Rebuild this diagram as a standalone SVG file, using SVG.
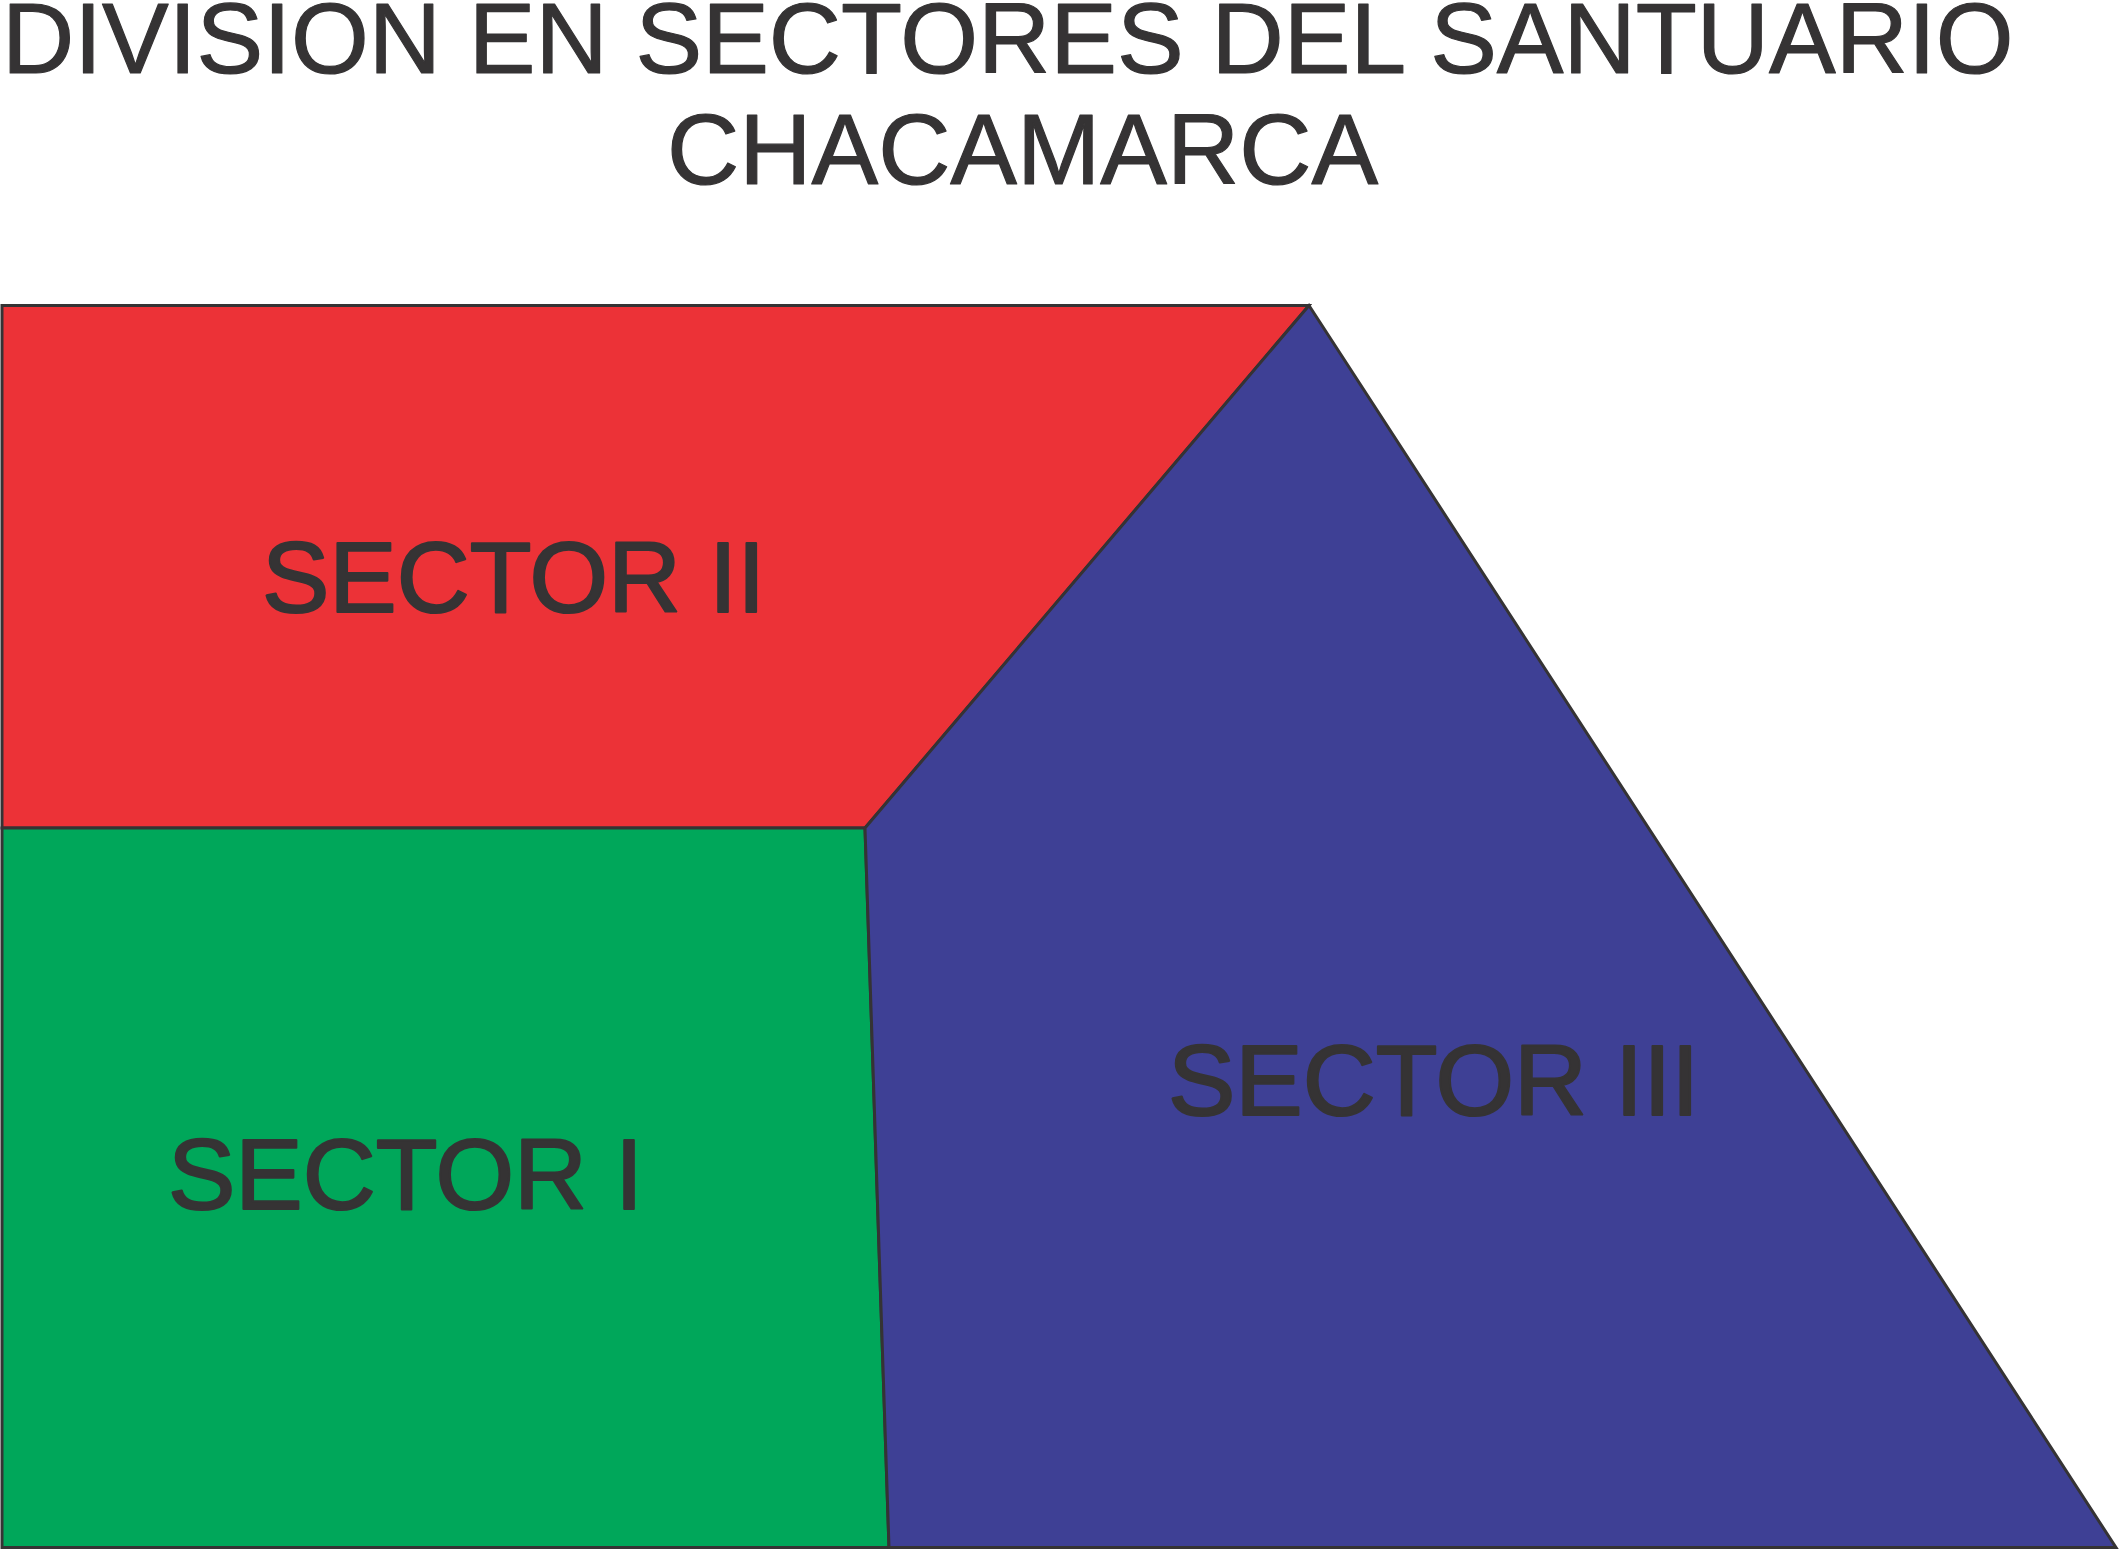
<svg xmlns="http://www.w3.org/2000/svg" width="2120" height="1550" viewBox="0 0 2120 1550">
  <style>
    .t { font-family: "Liberation Sans", Arial, sans-serif; fill: #353334; stroke: #353334; stroke-linejoin: round; }
    .title { font-size: 100px; stroke-width: 1.2; }
    .lbl { font-size: 101px; stroke-width: 2.2; }
    .sec { stroke: #353334; stroke-width: 3; stroke-linejoin: miter; }
  </style>
  <rect x="0" y="0" width="2120" height="1550" fill="#ffffff"/>
  <g id="title">
    <text class="t title" x="2" y="73">DIVISION EN SECTORES DEL SANTUARIO</text>
    <text class="t title" x="667" y="184">CHACAMARCA</text>
  </g>
  <g id="sector-ii">
    <polygon class="sec" fill="#EC3237" points="2,305.5 1309,305.5 865,828 2,828"/>
    <text class="t lbl" x="262" y="612">SECTOR II</text>
  </g>
  <g id="sector-i">
    <polygon class="sec" fill="#00A75A" points="2,828 865,828 889,1547.5 2,1547.5"/>
    <text class="t lbl" x="168" y="1209">SECTOR I</text>
  </g>
  <g id="sector-iii">
    <polygon class="sec" fill="#3E4095" points="1309,305.5 2116,1547.5 889,1547.5 865,828"/>
    <text class="t lbl" x="1168" y="1115">SECTOR III</text>
  </g>
</svg>
